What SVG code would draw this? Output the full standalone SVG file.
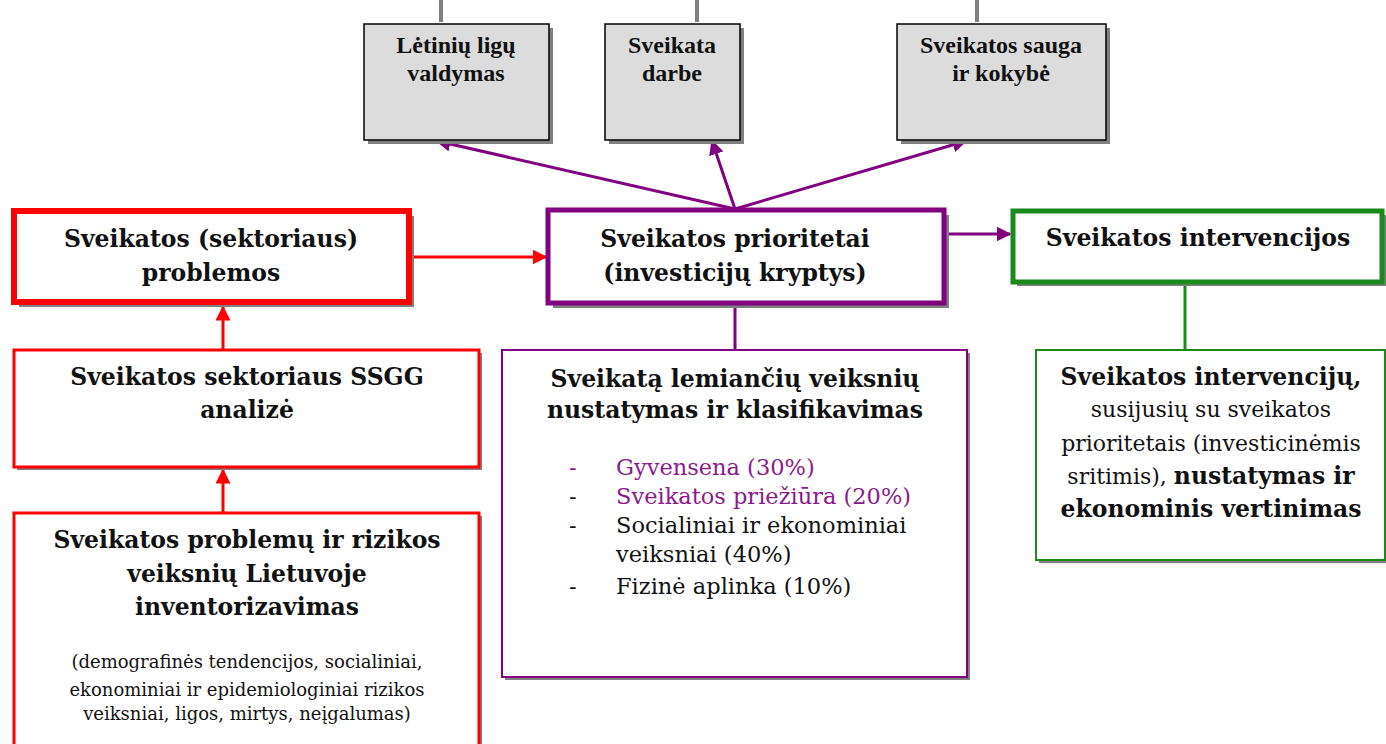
<svg xmlns="http://www.w3.org/2000/svg" width="1386" height="744" viewBox="0 0 1386 744">
  <defs>
    <marker id="arrRed" viewBox="0 0 10 10" refX="9" refY="5" markerWidth="5" markerHeight="5" orient="auto" markerUnits="strokeWidth">
      <path d="M0,0 L10,5 L0,10 z" fill="#ff0000"/>
    </marker>
    <marker id="arrPurple" viewBox="0 0 10 10" refX="9" refY="5" markerWidth="5" markerHeight="5" orient="auto" markerUnits="strokeWidth">
      <path d="M0,0 L10,5 L0,10 z" fill="#800080"/>
    </marker>
  </defs>
  <style>
    .shadow { fill: #808080; }
    .gray { fill: #dcdcdc; stroke: #000000; stroke-width: 1.5; }
    .white { fill: #ffffff; }
    .t { font-family: "DejaVu Serif", "Liberation Serif", serif; fill: #111111; text-anchor: middle; }
    .b { font-weight: bold; font-size: 23.5px; }
    .r { font-size: 22px; }
    .s { font-size: 18px; }
    .top { font-family: "Liberation Serif", serif; font-weight: bold; font-size: 24px; fill: #111111; text-anchor: middle; }
    .lst { font-family: "DejaVu Serif", "Liberation Serif", serif; font-size: 22.5px; fill: #111111; }
    .pur { fill: #8b1a8b; }
  </style>
  <rect width="1386" height="744" fill="#ffffff"/>

  <!-- connectors -->
  <g id="connectors" fill="none">
    <line x1="441" y1="0" x2="441" y2="22" stroke="#808080" stroke-width="4"/>
    <line x1="697" y1="0" x2="697" y2="22" stroke="#808080" stroke-width="4"/>
    <line x1="977" y1="0" x2="977" y2="22" stroke="#808080" stroke-width="4"/>
    <line x1="735" y1="209" x2="437" y2="141" stroke="#800080" stroke-width="3" marker-end="url(#arrPurple)"/>
    <line x1="735" y1="209" x2="712" y2="141" stroke="#800080" stroke-width="3" marker-end="url(#arrPurple)"/>
    <line x1="735" y1="209" x2="966" y2="141" stroke="#800080" stroke-width="3" marker-end="url(#arrPurple)"/>
    <line x1="412" y1="257" x2="546" y2="257" stroke="#ff0000" stroke-width="3" marker-end="url(#arrRed)"/>
    <line x1="947" y1="234" x2="1010" y2="234" stroke="#800080" stroke-width="3" marker-end="url(#arrPurple)"/>
    <line x1="1185" y1="285" x2="1185" y2="350" stroke="#1a8a1a" stroke-width="3"/>
    <line x1="735" y1="306" x2="735" y2="350" stroke="#800080" stroke-width="3"/>
    <line x1="223" y1="350" x2="223" y2="307" stroke="#ff0000" stroke-width="3" marker-end="url(#arrRed)"/>
    <line x1="223" y1="513" x2="223" y2="470" stroke="#ff0000" stroke-width="3" marker-end="url(#arrRed)"/>
  </g>

  <!-- top grey boxes -->
  <g id="n-chronic">
    <rect class="shadow" x="368" y="28" width="185" height="116"/>
    <rect class="gray" x="364" y="24" width="185" height="116"/>
    <text class="top" x="456" y="53">Lėtinių ligų</text>
    <text class="top" x="456" y="81">valdymas</text>
  </g>
  <g id="n-work">
    <rect class="shadow" x="609" y="28" width="135" height="116"/>
    <rect class="gray" x="605" y="24" width="135" height="116"/>
    <text class="top" x="672" y="53">Sveikata</text>
    <text class="top" x="672" y="81">darbe</text>
  </g>
  <g id="n-safety">
    <rect class="shadow" x="901" y="28" width="209" height="116"/>
    <rect class="gray" x="897" y="24" width="209" height="116"/>
    <text class="top" x="1001" y="53">Sveikatos sauga</text>
    <text class="top" x="1001" y="81">ir kokybė</text>
  </g>

  <!-- sector problems -->
  <g id="n-problems">
    <rect class="shadow" x="19" y="216" width="395" height="91"/>
    <rect class="white" x="14" y="211" width="395" height="91" stroke="#ff0000" stroke-width="6"/>
    <text class="t b" x="211" y="247">Sveikatos (sektoriaus)</text>
    <text class="t b" x="211" y="281">problemos</text>
  </g>

  <!-- priorities -->
  <g id="n-priorities">
    <rect class="shadow" x="553" y="215" width="396" height="93"/>
    <rect class="white" x="548" y="210" width="396" height="93" stroke="#800080" stroke-width="5"/>
    <text class="t b" x="735" y="247">Sveikatos prioritetai</text>
    <text class="t b" x="735" y="281">(investicijų kryptys)</text>
  </g>

  <!-- interventions -->
  <g id="n-interventions">
    <rect class="shadow" x="1017" y="215" width="369" height="71"/>
    <rect class="white" x="1013" y="211" width="369" height="71" stroke="#1a8a1a" stroke-width="5"/>
    <text class="t b" x="1198" y="246">Sveikatos intervencijos</text>
  </g>

  <!-- SSGG analysis -->
  <g id="n-ssgg">
    <rect class="shadow" x="17" y="353" width="465" height="117"/>
    <rect class="white" x="14" y="350" width="465" height="117" stroke="#ff0000" stroke-width="3"/>
    <text class="t b" x="247" y="385">Sveikatos sektoriaus SSGG</text>
    <text class="t b" x="247" y="418">analizė</text>
  </g>

  <!-- inventory -->
  <g id="n-inventory">
    <rect class="shadow" x="17" y="516" width="465" height="240"/>
    <rect class="white" x="14" y="513" width="465" height="240" stroke="#ff0000" stroke-width="3"/>
    <text class="t b" x="247" y="548">Sveikatos problemų ir rizikos</text>
    <text class="t b" x="247" y="582">veiksnių Lietuvoje</text>
    <text class="t b" x="247" y="615">inventorizavimas</text>
    <text class="t s" x="247" y="668">(demografinės tendencijos, socialiniai,</text>
    <text class="t s" x="247" y="696">ekonominiai ir epidemiologiniai rizikos</text>
    <text class="t s" x="247" y="720">veiksniai, ligos, mirtys, neįgalumas)</text>
  </g>

  <!-- determinants -->
  <g id="n-determinants">
    <rect class="shadow" x="505" y="353" width="465" height="327"/>
    <rect class="white" x="502" y="350" width="465" height="327" stroke="#800080" stroke-width="2"/>
    <text class="t b" x="735" y="387">Sveikatą lemiančių veiksnių</text>
    <text class="t b" x="735" y="418">nustatymas ir klasifikavimas</text>
    <text class="lst pur" x="569" y="475">-</text>
    <text class="lst pur" x="616" y="475">Gyvensena (30%)</text>
    <text class="lst" x="569" y="504">-</text>
    <text class="lst pur" x="616" y="504">Sveikatos priežiūra (20%)</text>
    <text class="lst" x="569" y="533">-</text>
    <text class="lst" x="616" y="533">Socialiniai ir ekonominiai</text>
    <text class="lst" x="616" y="562">veiksniai (40%)</text>
    <text class="lst" x="569" y="594">-</text>
    <text class="lst" x="616" y="594">Fizinė aplinka (10%)</text>
  </g>

  <!-- interventions detail -->
  <g id="n-intervention-detail">
    <rect class="shadow" x="1039" y="353" width="349" height="210"/>
    <rect class="white" x="1036" y="350" width="349" height="210" stroke="#1a8a1a" stroke-width="2"/>
    <text class="t b" x="1211" y="385">Sveikatos intervencijų,</text>
    <text class="t r" x="1211" y="417">susijusių su sveikatos</text>
    <text class="t r" x="1211" y="451">prioritetais (investicinėmis</text>
    <text class="t r" x="1211" y="484">sritimis), <tspan class="b">nustatymas ir</tspan></text>
    <text class="t b" x="1211" y="517">ekonominis vertinimas</text>
  </g>
</svg>
